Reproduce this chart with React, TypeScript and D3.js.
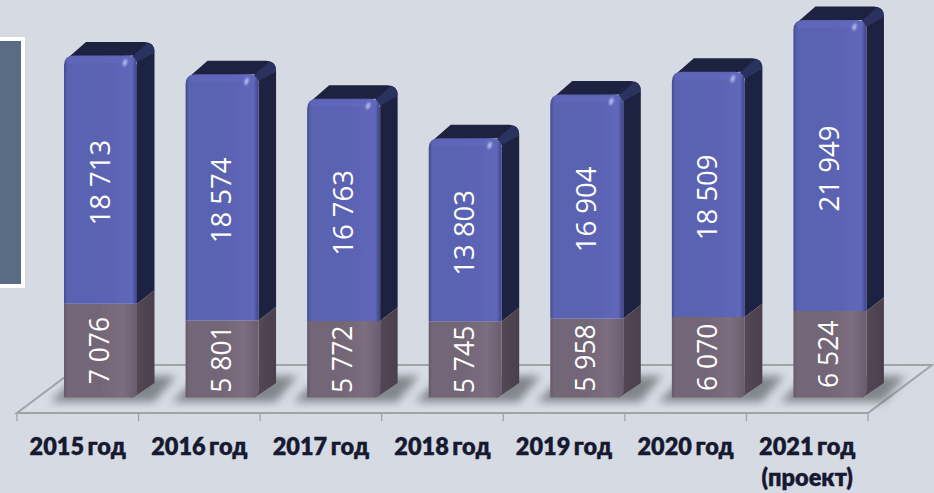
import React from "react";
import * as d3 from "d3";

const categories = ["2015 год", "2016 год", "2017 год", "2018 год", "2019 год", "2020 год", "2021 год"];
const upperValues = [18713, 18574, 16763, 13803, 16904, 18509, 21949];
const lowerValues = [7076, 5801, 5772, 5745, 5958, 6070, 6524];
const fmt = (v: number) => d3.format(",")(v).replace(",", " ");

const W = 934, H = 493;
const x = d3.scaleBand<string>().domain(categories).range([17, 868]);
const y = d3.scaleLinear().domain([0, 28473]).range([397.5, 20]);
const barW = 73, off = 47, dx = 17.5, dy = 13.5, r = 10;

const floor = d3.line()([[17, 413], [81, 365], [932, 365], [868, 413]]) + "Z";

export default function App() {
  return (
    <svg width={W} height={H} style={{ position: "fixed", left: 0, top: 0, background: "#d5dae3" }}>
      <defs>
        <linearGradient id="fb" x1="0" x2="1" y1="0" y2="0">
          <stop offset="0" stopColor="#454b8c" />
          <stop offset="0.05" stopColor="#5a62b2" />
          <stop offset="0.5" stopColor="#5a62b2" />
          <stop offset="0.93" stopColor="#5f67ba" />
          <stop offset="1" stopColor="#3f4486" />
        </linearGradient>
        <linearGradient id="fl" x1="0" x2="1" y1="0" y2="0">
          <stop offset="0" stopColor="#65596a" />
          <stop offset="0.05" stopColor="#736676" />
          <stop offset="0.5" stopColor="#736676" />
          <stop offset="0.8" stopColor="#7b6e7f" />
          <stop offset="1" stopColor="#6a5e6e" />
        </linearGradient>
        <linearGradient id="sl" x1="0" x2="1" y1="0" y2="0">
          <stop offset="0" stopColor="#554957" />
          <stop offset="1" stopColor="#4b404c" />
        </linearGradient>
        <filter id="soft" x="-5%" y="-5%" width="110%" height="110%"><feGaussianBlur stdDeviation="0.6" /></filter>
        <filter id="sh" x="-30%" y="-60%" width="160%" height="220%"><feGaussianBlur stdDeviation="4" /></filter>
        <filter id="gl" x="-100%" y="-100%" width="300%" height="300%"><feGaussianBlur stdDeviation="0.9" /></filter>
      </defs>

      <rect x={-4} y={39} width={27} height={247} fill="#5a6b84" stroke="#fff" strokeWidth={4} />

      <path d={floor} fill="#d8dde5" stroke="#a0a4a4" strokeWidth={2} />
      {d3.range(8).map(i => {
        const tx = 17 + i * x.step();
        return <line key={i} x1={tx} x2={tx} y1={413} y2={421} stroke="#a0a4a4" strokeWidth={1.3} />;
      })}

      {categories.map(c => {
        const bx = (x(c) as number) + off;
        const p = `M${bx - 14},402 L${bx + 90},402 L${bx + 112},376 H${bx + 14} Z`;
        return <path key={c} d={p} fill="#5d6266" opacity={0.7} filter="url(#sh)" />;
      })}

      {categories.map((c, i) => {
        const bx = (x(c) as number) + off;
        const xr = bx + barW;
        const y0 = y(0);
        const y1 = y(lowerValues[i]);
        const y2 = y(lowerValues[i] + upperValues[i]);
        const topFace = `M${bx + 2},${y2 + 4} L${bx + 22},${y2 - dy} H${xr + dx - r} Q${xr + dx},${y2 - dy} ${xr + dx},${y2 - dy + r} L${xr},${y2 + 6} L${xr - 4},${y2} Z`;
        const sideUp = `M${xr},${y1} V${y2 + 6} L${xr + dx},${y2 - dy + r} V${y1 - dy} Z`;
        const sideLow = `M${xr},${y0 - 6} Q${xr - 1},${y0 - 2} ${xr - 6},${y0} L${xr - 4},${y0} L${xr + dx},${y0 - dy - 1} V${y1 - dy} L${xr},${y1} Z`;
        const frontUp = `M${bx},${y1} V${y2 + r} Q${bx},${y2} ${bx + r},${y2} H${xr - r} Q${xr},${y2} ${xr},${y2 + r} V${y1} Z`;
        const frontLow = `M${bx},${y0} V${y1} H${xr} V${y0 - 6} Q${xr},${y0} ${xr - 8},${y0} Z`;
        const corner = `M${xr - 5},${y2 + 1} L${xr + dx - 7},${y2 - dy + 1} Q${xr + dx},${y2 - dy + 2} ${xr + dx},${y2 - dy + r} L${xr},${y2 + 7} Z`;
        return (
          <g key={c}>
            <g filter="url(#soft)">
              <path d={topFace} fill="#1e2040" />
              <path d={sideUp} fill="#1f2140" />
              <path d={corner} fill="#2b3060" />
              <path d={sideLow} fill="url(#sl)" />
              <path d={frontLow} fill="url(#fl)" />
              <path d={frontUp} fill="url(#fb)" />
              <rect x={bx + 3} y={y2 + 1} width={barW - 6} height={7} rx={3} fill="#6068bc" opacity={0.7} />
            </g>
            <ellipse cx={xr - 12} cy={y2 + 7} rx={1.6} ry={3.6} fill="#c5caf6" transform={`rotate(20 ${xr - 12} ${y2 + 7})`} filter="url(#gl)" />
            <text transform={`translate(${bx + 35},${(y1 + y2) / 2 + 3}) rotate(-90)`} textAnchor="middle" dominantBaseline="central" fontFamily="'Open Sans'" fontSize={27.5} fill="#fff">{fmt(upperValues[i])}</text>
            <text transform={`translate(${bx + 35},${(y0 + y1) / 2}) rotate(-90)`} textAnchor="middle" dominantBaseline="central" fontFamily="'Open Sans'" fontSize={26.5} fill="#fff">{fmt(lowerValues[i])}</text>
            <text x={(x(c) as number) + x.bandwidth() / 2} y={455} textAnchor="middle" fontFamily="Lato" fontWeight={800} fontSize={23.5} wordSpacing={-2} fill="#161930" stroke="#161930" strokeWidth={0.3}>{c}</text>
          </g>
        );
      })}
      <text x={(x("2021 год") as number) + x.bandwidth() / 2} y={486} textAnchor="middle" fontFamily="Lato" fontWeight={800} fontSize={23.5} fill="#161930" stroke="#161930" strokeWidth={0.3}>(проект)</text>
    </svg>
  );
}
